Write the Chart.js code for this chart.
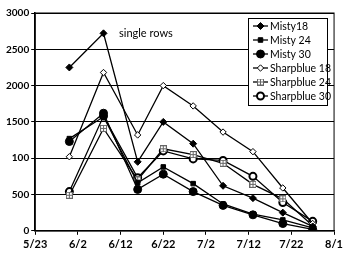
<!DOCTYPE html>
<html>
<head>
<meta charset="utf-8">
<script src="https://cdn.jsdelivr.net/npm/chart.js@4"></script>
<style>
  html, body { margin: 0; padding: 0; background: #fff; }
  #wrap { width: 346px; height: 255px; position: relative; }
</style>
</head>
<body>
<div id="wrap"><canvas id="chart"></canvas></div>
<script>
// days counted from 5/23
const sampleDays = [8, 16, 24, 30, 37, 44, 51, 58, 65];
const xTickLabels = ["5/23", "6/2", "6/12", "6/22", "7/2", "7/12", "7/22", "8/1"];
const yTickLabels = ["0", "500", "100", "1500", "2000", "2500", "3000"];

const seriesNames = ["Misty18", "Misty 24", "Misty 30", "Sharpblue 18", "Sharpblue 24", "Sharpblue 30"];
const misty18 = [2250, 2720, 950, 1500, 1200, 620, 450, 250, 60];
const misty24 = [1270, 1570, 660, 880, 650, 370, 230, 150, 40];
const misty30 = [1230, 1620, 570, 780, 540, 350, 220, 100, 20];
const sharpblue18 = [1020, 2180, 1320, 2000, 1720, 1360, 1090, 590, 100];
const sharpblue24 = [490, 1410, 700, 1130, 1050, 930, 640, 440, 70];
const sharpblue30 = [540, 1580, 730, 1100, 990, 970, 750, 390, 130];

// boxed cross marker for Sharpblue 24
function boxCross(){
  const c = document.createElement("canvas");
  c.width = 7; c.height = 7;
  const g = c.getContext("2d");
  g.fillStyle = "#fff";
  g.fillRect(0.5, 0.5, 6, 6);
  g.strokeStyle = "#666";
  g.lineWidth = 1;
  g.strokeRect(0.5, 0.5, 6, 6);
  g.beginPath();
  g.moveTo(3.5, 0.5); g.lineTo(3.5, 6.5);
  g.moveTo(0.5, 3.5); g.lineTo(6.5, 3.5);
  g.stroke();
  return c;
}

function pts(vals){
  return vals.map((v, i) => ({ x: sampleDays[i], y: v }));
}

const styles = [
  { pointStyle: "rectRot", radius: 3.5, fill: "#000", bw: 1 },
  { pointStyle: "rect", radius: 3.2, fill: "#000", bw: 1 },
  { pointStyle: "circle", radius: 4, fill: "#000", bw: 1 },
  { pointStyle: "rectRot", radius: 3.2, fill: "#fff", bw: 1 },
  { pointStyle: boxCross(), radius: 3.5, fill: "#fff", bw: 1 },
  { pointStyle: "circle", radius: 3.5, fill: "#fff", bw: 2 }
];
const seriesData = [misty18, misty24, misty30, sharpblue18, sharpblue24, sharpblue30];

const datasets = seriesData.map((vals, i) => ({
  label: seriesNames[i],
  data: pts(vals),
  borderColor: "#000",
  borderWidth: 1.3,
  pointStyle: styles[i].pointStyle,
  pointRadius: styles[i].radius,
  pointBackgroundColor: styles[i].fill,
  pointBorderColor: "#000",
  pointBorderWidth: styles[i].bw,
  tension: 0
}));

const FONT = "Lato, 'DejaVu Sans', sans-serif";

const extras = {
  id: "extras",
  afterDraw(chart){
    const ctx = chart.ctx;
    const a = chart.chartArea;
    ctx.save();
    // frame
    ctx.strokeStyle = "#000";
    ctx.lineWidth = 1;
    ctx.strokeRect(a.left, a.top, a.right - a.left, a.bottom - a.top);

    // annotation
    ctx.fillStyle = "#000";
    ctx.font = "11px " + FONT;
    ctx.textBaseline = "middle";
    ctx.fillText("single rows", 119, 33);

    // legend box
    const lx = 248, ly = 18, lw = 79, lh = 87;
    ctx.fillStyle = "#fff";
    ctx.fillRect(lx, ly, lw, lh);
    ctx.strokeStyle = "#000";
    ctx.lineWidth = 1;
    ctx.strokeRect(lx + 0.5, ly + 0.5, lw, lh);
    chart.data.datasets.forEach((ds, i) => {
      const cy = ly + 8 + i * 14;
      ctx.strokeStyle = "#000";
      ctx.lineWidth = 1.3;
      ctx.beginPath();
      ctx.moveTo(lx + 5, cy);
      ctx.lineTo(lx + 20, cy);
      ctx.stroke();
      ctx.fillStyle = ds.pointBackgroundColor;
      ctx.strokeStyle = "#000";
      ctx.lineWidth = ds.pointBorderWidth;
      Chart.helpers.drawPoint(ctx, {
        pointStyle: ds.pointStyle,
        rotation: 0,
        radius: ds.pointRadius,
        borderWidth: ds.pointBorderWidth
      }, lx + 12.5, cy);
      ctx.fillStyle = "#000";
      ctx.font = "10.5px " + FONT;
      ctx.textBaseline = "middle";
      ctx.fillText(ds.label, lx + 22, cy + 0.5);
    });
    ctx.restore();
  }
};

new Chart(document.getElementById("chart").getContext("2d"), {
  type: "line",
  data: { datasets },
  options: {
    responsive: true,
    maintainAspectRatio: false,
    animation: false,
    layout: { padding: { top: 13, right: 5, left: 4, bottom: 1 } },
    plugins: { legend: { display: false }, tooltip: { enabled: false } },
    scales: {
      x: {
        type: "linear",
        min: 0, max: 70,
        ticks: {
          stepSize: 10,
          color: "#000",
          font: { family: FONT, size: 11, weight: "bold" },
          padding: 3,
          maxRotation: 0,
          autoSkip: false,
          callback: (v) => xTickLabels[Math.round(v / 10)]
        },
        grid: { drawOnChartArea: false, drawTicks: true, tickLength: 4, color: "#000" },
        border: { color: "#000", width: 1.5 }
      },
      y: {
        min: 0, max: 3000,
        ticks: {
          stepSize: 500,
          color: "#000",
          font: { family: FONT, size: 10, weight: "bold" },
          padding: 2,
          callback: (v) => yTickLabels[Math.round(v / 500)]
        },
        grid: { color: "#000", lineWidth: 1, tickLength: 4 },
        border: { color: "#000", width: 1.5 }
      }
    }
  },
  plugins: [extras]
});
</script>
</body>
</html>
